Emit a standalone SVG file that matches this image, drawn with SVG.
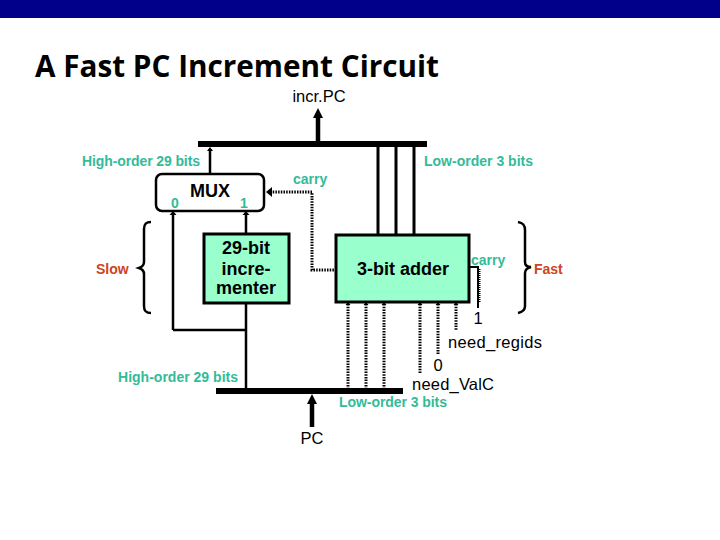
<svg xmlns="http://www.w3.org/2000/svg" width="720" height="540" viewBox="0 0 720 540">
<style>
text{font-family:"Liberation Sans",Arial,sans-serif;fill:#000}
.t{fill:#33BB99;font-weight:bold;font-size:14px}
.r{fill:#CC4422;font-weight:bold;font-size:14px}
.b{font-weight:bold;font-size:18px;text-anchor:middle}
.n{font-size:16.500px}
.s{stroke:#000;fill:none;stroke-width:2.500}
.w{stroke:#000;fill:none;stroke-width:3}
.d{stroke:#000;fill:none;stroke-width:3;stroke-dasharray:1.500 1.200}
.box{fill:#99FFCC;stroke:#000;stroke-width:3}
.a{fill:#000}
</style>
<rect x="0" y="0" width="720" height="18" fill="#00008B"/>
<text x="35" y="77" font-size="31" font-weight="bold" textLength="404" lengthAdjust="spacingAndGlyphs" style="font-family:'Open Sans',sans-serif">A Fast PC Increment Circuit</text>
<g id="connectors">
<path d="M198 144H427" stroke="#000" stroke-width="6" fill="none"/>
<path d="M216 391H403" stroke="#000" stroke-width="6" fill="none"/>
<path d="M318 141V116" stroke="#000" stroke-width="4.500" fill="none"/>
<path class="a" d="M318 108L323 118H313Z"/>
<path d="M312 427V402" stroke="#000" stroke-width="4.500" fill="none"/>
<path class="a" d="M312 394L317 404H307Z"/>
<path class="s" d="M210 174V149"/><path class="a" d="M210 147L213 151H207Z"/>
<path class="s" d="M173 330V215"/><path class="a" d="M173 211L176.500 215H169.500Z"/>
<path class="s" d="M246 234V215"/><path class="a" d="M246 211L249.500 215H242.500Z"/>
<path class="s" d="M246 303V388"/>
<path class="s" d="M173 330H246"/>
<path class="w" d="M378 147V235M396 147V235M414 147V235"/>
<path class="d" d="M270 192H312V270H334"/><path class="a" d="M266 192L272 187V197Z"/>
<path class="d" d="M348 304V388M366 304V388M384 304V388M420 304V373M438 304V355M456 304V330"/>
<path class="a" d="M348 302L350.500 305H345.500ZM366 302L368.500 305H363.500ZM384 302L386.500 305H381.500ZM420 302L422.500 305H417.500ZM438 302L440.500 305H435.500ZM456 302L458.500 305H453.500Z"/>
<path d="M469 267H478V308" stroke="#000" stroke-width="2" fill="none"/>
<path d="M479.500 269V302" stroke="#000" stroke-width="2" stroke-dasharray="1 1" fill="none"/>
</g>
<g id="mux"><rect x="156" y="174" width="108" height="37" rx="6" fill="#fff" stroke="#000" stroke-width="2.500"/>
<text x="210" y="197" class="b">MUX</text>
<text x="175" y="208" class="t" text-anchor="middle">0</text>
<text x="244" y="208" class="t" text-anchor="middle">1</text></g>
<g id="incrementer"><rect x="204" y="234" width="85" height="69" class="box"/>
<text x="246" y="254" class="b">29-bit</text><text x="246" y="275" class="b">incre-</text><text x="246" y="294" class="b">menter</text></g>
<g id="adder"><rect x="336" y="235" width="133" height="67" class="box"/>
<text x="403" y="275" class="b">3-bit adder</text></g>
<g id="braces">
<path class="s" d="M151 222C146 222 144 224 144 229V262C144 265 142 267 139 268C142 269 144 271 144 274V306C144 311 146 313 151 313"/>
<path class="s" d="M518 222C523 223 525 225 525 230V262C525 265 527 267 531 267C527 268 525 270 525 273V306C525 310 523 312 518 313"/>
</g>
<g id="labels">
<text x="82" y="166" class="t" textLength="118">High-order 29 bits</text>
<text x="424" y="166" class="t" textLength="109">Low-order 3 bits</text>
<text x="293" y="184" class="t">carry</text>
<text x="471" y="265" class="t">carry</text>
<text x="96" y="274" class="r">Slow</text>
<text x="534" y="274" class="r">Fast</text>
<text x="118" y="382" class="t" textLength="120">High-order 29 bits</text>
<text x="339" y="407" class="t" textLength="108">Low-order 3 bits</text>
<text x="319" y="102" class="n" text-anchor="middle">incr.PC</text>
<text x="478" y="324" class="n" text-anchor="middle">1</text>
<text x="448" y="348" class="n" textLength="94">need_regids</text>
<text x="438" y="371" class="n" text-anchor="middle">0</text>
<text x="412" y="390" class="n" textLength="82">need_ValC</text>
<text x="312" y="444" class="n" text-anchor="middle">PC</text>
</g>
</svg>
